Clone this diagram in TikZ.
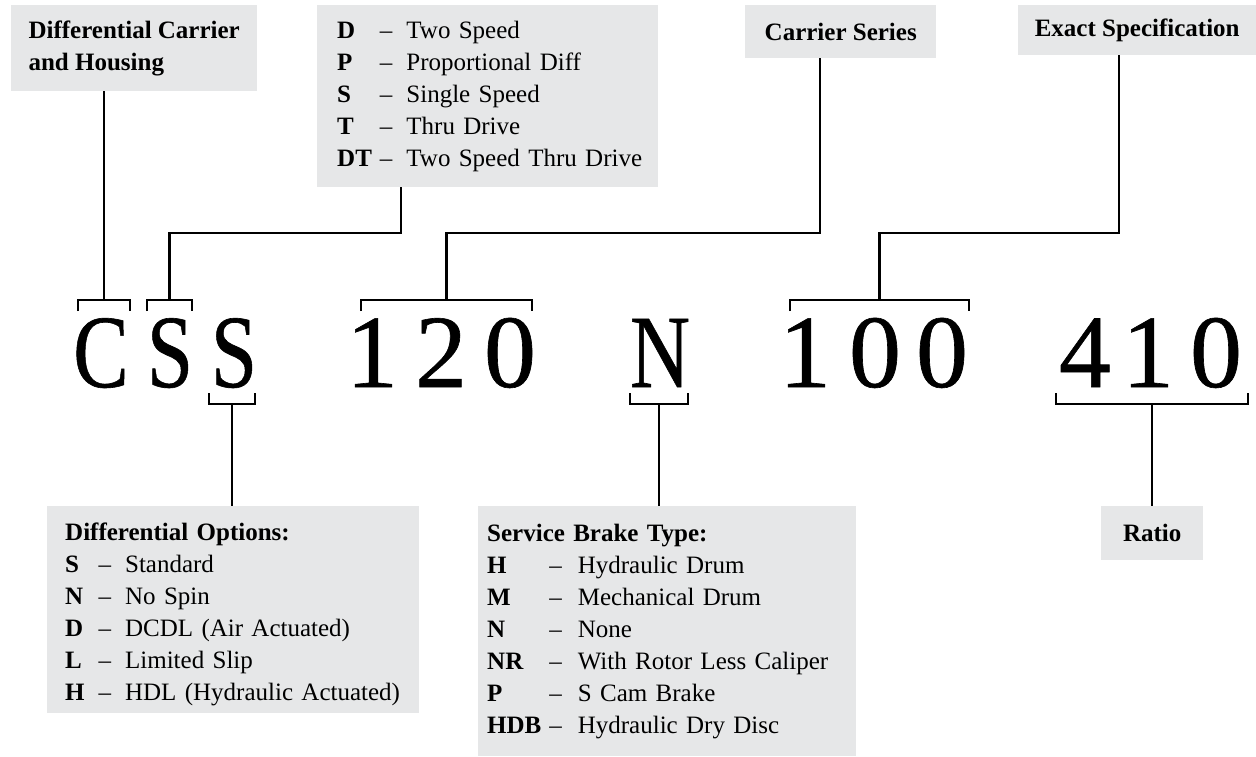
\documentclass[tikz,border=0pt]{standalone}
\usepackage{fontspec}
\setmainfont{Liberation Serif}
\newfontfamily\partfont[FakeBold=0.6]{Liberation Serif}
\usepackage{array}
\usepackage{tikz}

\definecolor{panelgray}{HTML}{E6E7E8}

% bracket over / under a group of the part number
\newcommand{\topbrk}[3]{%
  \coordinate (#1) at ({(#2+#3)/2},300);
  \draw[brk] (#2,311) -- (#2,300) -- (#3,300) -- (#3,311);}
\newcommand{\botbrk}[3]{%
  \coordinate (#1) at ({(#2+#3)/2},404);
  \draw[brk] (#2,393) -- (#2,404) -- (#3,404) -- (#3,393);}

\begin{document}
\begin{tikzpicture}[
    x=1pt, y=-1pt,
    panel/.style={fill=panelgray, anchor=north west, inner ysep=0pt, font=\fontsize{25}{32}\selectfont},
    headbox/.style={panel, font=\fontsize{25}{32}\selectfont\bfseries},
    listbox/.style={panel, align=left},
    glyph/.style={anchor=base, inner sep=0pt, font=\partfont\fontsize{104}{104}\selectfont},
    brk/.style={line width=2.2pt, line join=miter},
    link/.style={line width=2.2pt, line join=miter}
]
    \useasboundingbox (0,0) rectangle (1256,756);

    % --- Upper panels ---
    \node[headbox, minimum width=246pt, minimum height=86pt, inner xsep=0pt, align=left] (housing) at (11,5) {Differential Carrier\\and Housing};
    \node[listbox, minimum width=341pt, minimum height=182pt, inner xsep=20pt, text width=301pt] (types) at (317,5) {%
        \begin{tabular}{@{}>{\bfseries}l@{\hspace{8pt}}l@{\hspace{14pt}}l@{}}
        D  & \textendash & Two Speed\\
        P  & \textendash & Proportional Diff\\
        S  & \textendash & Single Speed\\
        T  & \textendash & Thru Drive\\
        DT & \textendash & Two Speed Thru Drive
        \end{tabular}};
    \node[headbox, minimum width=191pt, minimum height=53pt] (series) at (745,5) {Carrier Series};
    \node[headbox, minimum width=238pt, minimum height=50pt] (spec) at (1018,5) {Exact Specification};

    % --- Part number ---
    \node[glyph] (gC)  at (101,387)  {\scalebox{0.8}[1]{C}};
    \node[glyph] (gS1) at (170,387)  {\scalebox{0.8}[1]{S}};
    \node[glyph] (gS2) at (234,387)  {\scalebox{0.8}[1]{S}};
    \node[glyph] (g1)  at (372,387)  {1};
    \node[glyph] (g2)  at (441,387)  {2};
    \node[glyph] (g3)  at (510,387)  {0};
    \node[glyph] (gN)  at (660,387)  {\scalebox{0.8}[1]{N}};
    \node[glyph] (g4)  at (805,387)  {1};
    \node[glyph] (g5)  at (875,387)  {0};
    \node[glyph] (g6)  at (942,387)  {0};
    \node[glyph] (g7)  at (1085,387) {4};
    \node[glyph] (g8)  at (1148,387) {1};
    \node[glyph] (g9)  at (1216,387) {0};

    % --- Lower panels ---
    \node[listbox, minimum width=372pt, minimum height=207pt, inner xsep=18pt, text width=336pt] (opts) at (47,506) {%
        \begin{tabular}{@{}>{\bfseries}l@{\hspace{14pt}}l@{\hspace{14pt}}l@{}}
        \multicolumn{3}{@{}l@{}}{\rule{0pt}{32pt}\textbf{Differential Options:}}\\
        S & \textendash & Standard\\
        N & \textendash & No Spin\\
        D & \textendash & DCDL (Air Actuated)\\
        L & \textendash & Limited Slip\\
        H & \textendash & HDL (Hydraulic Actuated)
        \end{tabular}};
    \node[listbox, minimum width=378pt, minimum height=250pt, inner xsep=9pt, text width=360pt] (brake) at (478,506) {%
        \begin{tabular}{@{}>{\bfseries}l@{\hspace{8pt}}l@{\hspace{16pt}}l@{}}
        \multicolumn{3}{@{}l@{}}{\textbf{Service Brake Type:}}\\
        H   & \textendash & Hydraulic Drum\\
        M   & \textendash & Mechanical Drum\\
        N   & \textendash & None\\
        NR  & \textendash & With Rotor Less Caliper\\
        P   & \textendash & S Cam Brake\\
        HDB & \textendash & Hydraulic Dry Disc
        \end{tabular}};
    \node[headbox, minimum width=102pt, minimum height=54pt] (ratio) at (1101,506) {Ratio};

    % --- Brackets ---
    \topbrk{bC}{78}{130}
    \topbrk{bS}{147}{192}
    \topbrk{bSeries}{361}{532}
    \topbrk{bSpec}{790}{969}
    \botbrk{bOpt}{209}{255}
    \botbrk{bBrake}{630}{688}
    \botbrk{bRatio}{1056}{1248}

    % --- Connectors ---
    \coordinate (typesknee)  at (401,233);
    \coordinate (seriesknee) at (820,233);
    \coordinate (specknee)   at (1119,233);

    \draw[link] (housing.south -| bC) -- (bC);
    \draw[link] (types.south -| typesknee) -- (typesknee) -| (bS);
    \draw[link] (series.south -| seriesknee) -- (seriesknee) -| (bSeries);
    \draw[link] (spec.south -| specknee) -- (specknee) -| (bSpec);
    \draw[link] (bOpt) -- (opts.north -| bOpt);
    \draw[link] (bBrake) -- (brake.north -| bBrake);
    \draw[link] (bRatio) -- (ratio.north -| bRatio);

\end{tikzpicture}
\end{document}
